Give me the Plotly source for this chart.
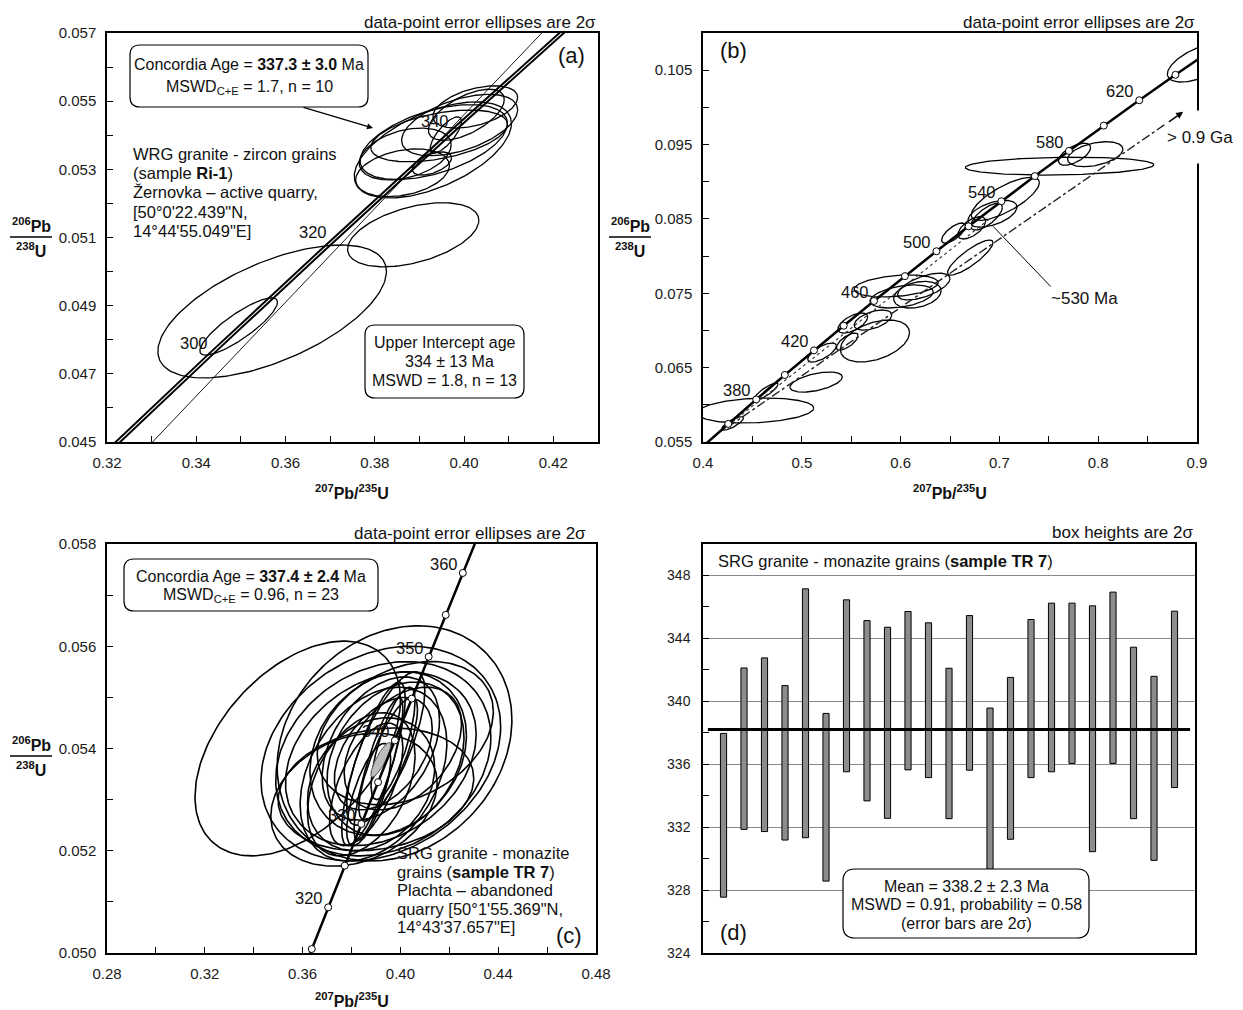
import numpy as np
import plotly.graph_objects as go

W, H = 1243, 1010
FONT = "Liberation Sans, Arial, sans-serif"

# ---------------- data ----------------
# Concordia reference points: age (Ma), 207Pb/235U, 206Pb/238U
conc_a_age = [280, 300, 320, 340, 360]
conc_a_x = [0.31753, 0.34374, 0.37047, 0.39773, 0.42553]
conc_a_y = [0.044392, 0.047637, 0.050893, 0.054158, 0.057434]
conc_a_labels = [300, 320, 340]

conc_b_age = [340, 360, 380, 400, 420, 440, 460, 480, 500, 520, 540, 560, 580, 600, 620, 640, 660, 680]
conc_b_x = [0.39773, 0.42553, 0.45389, 0.48281, 0.51231, 0.54239, 0.57307, 0.60437, 0.63628,
            0.66883, 0.70203, 0.73588, 0.77041, 0.80563, 0.84155, 0.87818, 0.91554, 0.95365]
conc_b_y = [0.054158, 0.057434, 0.060720, 0.064016, 0.067322, 0.070638, 0.073965, 0.077302, 0.080650,
            0.084008, 0.087376, 0.090755, 0.094144, 0.097544, 0.100955, 0.104376, 0.107807, 0.111249]
conc_b_marked = [360, 380, 400, 420, 440, 460, 480, 500, 520, 540, 560, 580, 600, 620, 640]
conc_b_labels = [380, 420, 460, 500, 540, 580, 620]

conc_c_age = [310, 315, 320, 325, 330, 335, 340, 345, 350, 355, 360, 365]
conc_c_x = [0.35704, 0.36374, 0.37047, 0.37723, 0.38403, 0.39086, 0.39773, 0.40463, 0.41156, 0.41853, 0.42553, 0.43257]
conc_c_y = [0.049264, 0.050078, 0.050893, 0.051708, 0.052524, 0.053341, 0.054158, 0.054976, 0.055795, 0.056614, 0.057434, 0.058254]
conc_c_marked = [315, 320, 325, 330, 335, 340, 345, 350, 355, 360]
conc_c_labels = [320, 330, 340, 350, 360]

# Panel (a) discordia regression line end points
disc_a_x = [0.3302, 0.4174]
disc_a_y = [0.0450, 0.0570]

# Error ellipses: centre x, 2s x, centre y, 2s y, error correlation
ell_a_cx = [0.3570, 0.3495, 0.3886, 0.3930, 0.4025, 0.3868, 0.3944, 0.3959, 0.3862, 0.3990, 0.4005, 0.3928, 0.3932]
ell_a_sx = [0.0256, 0.0087, 0.0147, 0.0176, 0.0095, 0.0103, 0.0153, 0.0035, 0.0105, 0.0130, 0.0085, 0.0044, 0.0165]
ell_a_cy = [0.04883, 0.04839, 0.05108, 0.05357, 0.05483, 0.05345, 0.05398, 0.05401, 0.05290, 0.05430, 0.05460, 0.05317, 0.05380]
ell_a_sy = [0.00195, 0.00084, 0.00094, 0.00141, 0.00062, 0.00076, 0.00076, 0.00053, 0.00070, 0.00090, 0.00075, 0.00034, 0.00110]
ell_a_rho = [0.60, 0.85, 0.45, 0.55, 0.45, 0.35, 0.45, 0.75, 0.30, 0.50, 0.60, 0.50, 0.50]

ell_b_cx = [0.453, 0.430, 0.464, 0.5145, 0.5205, 0.574, 0.546, 0.5516, 0.572, 0.5955, 0.601, 0.617,
            0.6235, 0.6705, 0.6536, 0.672, 0.693, 0.687, 0.706, 0.761, 0.776, 0.797, 0.905]
ell_b_sx = [0.059, 0.011, 0.012, 0.0265, 0.0145, 0.035, 0.011, 0.0151, 0.019, 0.0425, 0.032, 0.024,
            0.0265, 0.023, 0.0121, 0.014, 0.0248, 0.016, 0.0345, 0.0954, 0.0163, 0.028, 0.035]
ell_b_cy = [0.05923, 0.0575, 0.0618, 0.06306, 0.06703, 0.06858, 0.0685, 0.0710, 0.0714, 0.07598, 0.07457, 0.0748,
            0.0759, 0.0798, 0.0831, 0.0838, 0.0857, 0.0853, 0.0877, 0.0921, 0.0937, 0.0937, 0.1061]
ell_b_sy = [0.00168, 0.0009, 0.00114, 0.00135, 0.00128, 0.00282, 0.00115, 0.00135, 0.00135, 0.00148, 0.00155, 0.0018,
            0.0018, 0.00236, 0.00135, 0.0015, 0.0018, 0.0018, 0.0029, 0.0012, 0.00148, 0.00168, 0.0027]
ell_b_rho = [0.20, 0.80, 0.85, 0.50, 0.70, 0.40, 0.70, 0.60, 0.50, 0.30, 0.40, 0.30,
             0.60, 0.85, 0.70, 0.60, 0.50, 0.70, 0.75, 0.15, 0.60, 0.40, 0.60]

ell_c_cx = [0.358, 0.3976, 0.392, 0.393, 0.392, 0.395, 0.389, 0.398, 0.388, 0.392, 0.394, 0.389,
            0.391, 0.395, 0.386, 0.393, 0.384, 0.401, 0.390, 0.397, 0.387, 0.402, 0.381]
ell_c_sx = [0.042, 0.048, 0.049, 0.044, 0.039, 0.032, 0.030, 0.028, 0.026, 0.024, 0.016, 0.013,
            0.010, 0.012, 0.015, 0.020, 0.022, 0.024, 0.040, 0.009, 0.009, 0.036, 0.034]
ell_c_cy = [0.0540, 0.0541, 0.0539, 0.0538, 0.0538, 0.0539, 0.0535, 0.0538, 0.0533, 0.0540, 0.0540, 0.0537,
            0.0536, 0.0538, 0.0533, 0.0539, 0.0533, 0.0540, 0.0532, 0.0541, 0.0531, 0.0543, 0.0530]
ell_c_sy = [0.0021, 0.0023, 0.0021, 0.0019, 0.0017, 0.0016, 0.0017, 0.0015, 0.0013, 0.0014, 0.0015, 0.0016,
            0.0014, 0.0012, 0.0012, 0.0011, 0.0014, 0.0012, 0.0012, 0.0011, 0.0010, 0.0014, 0.0013]
ell_c_rho = [0.45, 0.20, 0.25, 0.22, 0.28, 0.22, 0.35, 0.28, 0.25, 0.40, 0.75, 0.80,
             0.85, 0.80, 0.60, 0.45, 0.40, 0.40, 0.18, 0.75, 0.70, 0.30, 0.25]

# Concordia-age ellipse (panel c)
cage_c = dict(cx=0.392, sx=0.0041, cy=0.05378, sy=0.00034, rho=0.85)

# Panel (b) reference lines (dash-dot)
ref_b1_x = [0.425, 0.886]
ref_b1_y = [0.0570, 0.0994]
ref_b2_x = [0.425, 0.690]
ref_b2_y = [0.0572, 0.0850]
pt_530_x = [0.6936, 0.752]
pt_530_y = [0.0840, 0.0759]

# Panel (d) weighted mean: spot ages, box top / bottom (Ma)
spot_top = [337.96, 342.12, 342.76, 341.00, 347.15, 339.23, 346.45, 345.13, 344.71, 345.71, 344.99, 342.10,
            345.45, 339.57, 341.52, 345.20, 346.24, 346.24, 346.07, 346.94, 343.44, 341.59, 345.73]
spot_bot = [327.55, 331.86, 331.72, 331.18, 331.33, 328.57, 335.52, 333.67, 332.56, 335.64, 335.15, 332.54,
            335.62, 329.32, 331.23, 335.15, 335.52, 336.05, 330.44, 336.05, 332.54, 329.89, 334.52]
mean_age = 338.2

# ---------------- helpers ----------------
def ellipses(cx, sx, cy, sy, rho):
    t = np.linspace(0, 2 * np.pi, 181)
    xs, ys = [], []
    for a, b, c, d, r in zip(cx, sx, cy, sy, rho):
        xs += list(a + b * np.cos(t)) + [None]
        ys += list(c + d * (r * np.cos(t) + np.sqrt(1 - r * r) * np.sin(t))) + [None]
    return xs, ys


def P(x, y):
    return x / W, 1 - y / H


def txt(x, y, text, size=16.5, xanchor="center", yanchor="middle", **kw):
    px, py = P(x, y)
    d = dict(x=px, y=py, xref="paper", yref="paper", text=text, showarrow=False,
             xanchor=xanchor, yanchor=yanchor,
             font=dict(family=FONT, size=size, color="#111"))
    d.update(kw)
    return d


def rrect(x0, y0, x1, y1, r=10):
    rx, ry = r / W, r / H
    X0, Y0 = P(x0, y0)
    X1, Y1 = P(x1, y1)
    path = (f"M {X0+rx},{Y0} L {X1-rx},{Y0} Q {X1},{Y0} {X1},{Y0-ry} "
            f"L {X1},{Y1+ry} Q {X1},{Y1} {X1-rx},{Y1} L {X0+rx},{Y1} "
            f"Q {X0},{Y1} {X0},{Y1+ry} L {X0},{Y0-ry} Q {X0},{Y0} {X0+rx},{Y0} Z")
    return dict(type="path", path=path, xref="paper", yref="paper",
                line=dict(color="black", width=1.2), fillcolor="white", layer="above")


def pick(ages, xs, ys, wanted):
    idx = [ages.index(a) for a in wanted]
    return [xs[i] for i in idx], [ys[i] for i in idx]


fig = go.Figure()
LW = dict(color="black", width=1.3)

# ---- panel (a)
ex, ey = ellipses(ell_a_cx, ell_a_sx, ell_a_cy, ell_a_sy, ell_a_rho)
fig.add_trace(go.Scatter(x=ex, y=ey, mode="lines", line=LW, xaxis="x", yaxis="y", hoverinfo="skip"))
band = 0.0005
for s in (-1, 1):
    fig.add_trace(go.Scatter(x=[v + s * band for v in conc_a_x], y=conc_a_y, mode="lines",
                             line=dict(color="black", width=2), xaxis="x", yaxis="y"))
fig.add_trace(go.Scatter(x=disc_a_x, y=disc_a_y, mode="lines", line=dict(color="black", width=0.9),
                         xaxis="x", yaxis="y"))

# ---- panel (b)
ex, ey = ellipses(ell_b_cx, ell_b_sx, ell_b_cy, ell_b_sy, ell_b_rho)
fig.add_trace(go.Scatter(x=ex, y=ey, mode="lines", line=LW, xaxis="x2", yaxis="y2", hoverinfo="skip"))
fig.add_trace(go.Scatter(x=ref_b1_x, y=ref_b1_y, mode="lines",
                         line=dict(color="#222", width=1.4, dash="dashdot"), xaxis="x2", yaxis="y2"))
fig.add_trace(go.Scatter(x=ref_b2_x, y=ref_b2_y, mode="lines",
                         line=dict(color="#333", width=1.1, dash="dot"), xaxis="x2", yaxis="y2"))
fig.add_trace(go.Scatter(x=pt_530_x, y=pt_530_y, mode="lines",
                         line=dict(color="black", width=1), xaxis="x2", yaxis="y2"))
fig.add_trace(go.Scatter(x=conc_b_x, y=conc_b_y, mode="lines", line=dict(color="black", width=2.5),
                         xaxis="x2", yaxis="y2"))
mx, my = pick(conc_b_age, conc_b_x, conc_b_y, conc_b_marked)
fig.add_trace(go.Scatter(x=mx, y=my, mode="markers", xaxis="x2", yaxis="y2",
                         marker=dict(size=7, color="white", line=dict(color="black", width=1))))

# ---- panel (c)
ex, ey = ellipses(ell_c_cx, ell_c_sx, ell_c_cy, ell_c_sy, ell_c_rho)
fig.add_trace(go.Scatter(x=ex, y=ey, mode="lines", line=dict(color="black", width=1.6),
                         xaxis="x3", yaxis="y3", hoverinfo="skip"))
gx, gy = ellipses([cage_c["cx"]], [cage_c["sx"]], [cage_c["cy"]], [cage_c["sy"]], [cage_c["rho"]])
fig.add_trace(go.Scatter(x=gx[:-1], y=gy[:-1], mode="lines", fill="toself", fillcolor="#bdbdbd",
                         line=dict(color="#555", width=1), xaxis="x3", yaxis="y3"))
fig.add_trace(go.Scatter(x=conc_c_x, y=conc_c_y, mode="lines", line=dict(color="black", width=2.5),
                         xaxis="x3", yaxis="y3"))
mx, my = pick(conc_c_age, conc_c_x, conc_c_y, conc_c_marked)
fig.add_trace(go.Scatter(x=mx, y=my, mode="markers", xaxis="x3", yaxis="y3",
                         marker=dict(size=7, color="white", line=dict(color="black", width=1))))

# ---- panel (d)
idx = list(range(1, len(spot_top) + 1))
fig.add_trace(go.Bar(x=idx, y=[t - b for t, b in zip(spot_top, spot_bot)], base=spot_bot, width=0.3,
                     marker=dict(color="#8c8c8c", line=dict(color="black", width=1)),
                     xaxis="x4", yaxis="y4"))

# ---------------- axes ----------------
TF = dict(family=FONT, size=15, color="#1a1a1a")


def axis(domain, anchor, rng, tick0, dtick, fmt, mdtick, **kw):
    d = dict(domain=domain, anchor=anchor, range=rng, tick0=tick0, dtick=dtick, tickformat=fmt,
             showline=True, mirror=True, linecolor="black", linewidth=1.5,
             ticks="inside", ticklen=6, tickcolor="black", tickwidth=1, automargin=False,
             showgrid=False, zeroline=False, tickfont=TF, ticklabelstandoff=6,
             minor=dict(dtick=mdtick, tick0=tick0, ticks="inside", ticklen=6, tickcolor="black",
                        tickwidth=1, showgrid=False))
    d.update(kw)
    return d


xa = [107 / W, 598 / W]
xb = [703 / W, 1197 / W]
xc = [107 / W, 596 / W]
xd = [703 / W, 1195 / W]
ytop = [1 - 442 / H, 1 - 33 / H]
ybot = [1 - 953 / H, 1 - 544 / H]

fig.update_layout(
    xaxis=axis(xa, "y", [0.32, 0.43], 0.32, 0.02, ".2f", 0.01),
    yaxis=axis(ytop, "x", [0.045, 0.057], 0.045, 0.002, ".3f", 0.001),
    xaxis2=axis(xb, "y2", [0.4, 0.9], 0.4, 0.1, ".1f", 0.05),
    yaxis2=axis(ytop, "x2", [0.055, 0.110], 0.055, 0.01, ".3f", 0.005),
    xaxis3=axis(xc, "y3", [0.28, 0.48], 0.28, 0.04, ".2f", 0.02),
    yaxis3=axis(ybot, "x3", [0.050, 0.058], 0.050, 0.002, ".3f", 0.001),
    xaxis4=dict(domain=xd, anchor="y4", range=[0, 24], showline=True, mirror=True, linecolor="black",
                linewidth=1.5, showticklabels=False, ticks="", showgrid=False, zeroline=False,
                automargin=False),
    yaxis4=axis(ybot, "x4", [324, 350], 324, 4, "d", 2, showgrid=True, gridcolor="#8a8a8a", gridwidth=1,
                tickfont=dict(family=FONT, size=14, color="#1a1a1a"), ticklabelstandoff=8),
)

# ---------------- annotations ----------------
ann = []
BIG = 22
ann.append(txt(598, 22, "data-point error ellipses are 2σ", 17, xanchor="right"))
ann.append(txt(1197, 22, "data-point error ellipses are 2σ", 17, xanchor="right"))
ann.append(txt(588, 533, "data-point error ellipses are 2σ", 17, xanchor="right"))
ann.append(txt(1195, 532, "box heights are 2σ", 17, xanchor="right"))
ann.append(txt(571, 55, "(a)", BIG))
ann.append(txt(733, 50, "(b)", BIG))
ann.append(txt(569, 935, "(c)", BIG))
ann.append(txt(733, 932, "(d)", BIG))
XT = "<b><sup>207</sup>Pb/<sup>235</sup>U</b>"
ann.append(txt(352, 492, XT, 16))
ann.append(txt(950, 492, XT, 16))
ann.append(txt(352, 1000, XT, 16))
frac_lines = []
for cx, cy in [(31, 237), (630, 237), (31, 756)]:
    ann.append(txt(cx, cy - 12, "<b><sup>206</sup>Pb</b>", 16))
    ann.append(txt(cx, cy + 13, "<b><sup>238</sup>U</b>", 16))
    x0, y0 = P(cx - 21, cy)
    x1, _ = P(cx + 21, cy)
    frac_lines.append(dict(type="line", xref="paper", yref="paper", x0=x0, x1=x1, y0=y0, y1=y0,
                           line=dict(color="black", width=1.5)))

# panel (a) texts
ann.append(txt(249, 64, "Concordia Age = <b>337.3 ± 3.0</b> Ma", 16))
ann.append(txt(249, 88, "MSWD<sub>C+E</sub> = 1.7, n = 10", 16))
for i, line in enumerate(["WRG granite - zircon grains", "(sample <b>Ri-1</b>)",
                          "Žernovka – active quarry,", "[50°0'22.439\"N,", "14°44'55.049\"E]"]):
    ann.append(txt(131, 154 + i * 19.2, line, xanchor="left"))
ann.append(txt(445, 342, "Upper Intercept age", 16))
ann.append(txt(449, 361, "334 ± 13 Ma", 16))
ann.append(txt(444, 380, "MSWD = 1.8, n = 13", 16))
hx, hy = P(373, 128)
ann.append(dict(x=hx, y=hy, xref="paper", yref="paper", showarrow=True, ax=-71, ay=-21,
                arrowhead=2, arrowsize=1, arrowwidth=1.2, arrowcolor="black", text=""))

# panel (b) texts
ann.append(txt(1165, 137, "&gt; 0.9 Ga", 17, xanchor="left", bgcolor="white", height=50))
ann.append(dict(x=ref_b1_x[1], y=ref_b1_y[1], xref="x2", yref="y2", ax=0.87, ay=0.0979,
                axref="x2", ayref="y2", showarrow=True, arrowhead=2, arrowsize=1, arrowwidth=1.4,
                arrowcolor="black", text=""))
ann.append(txt(1049, 298, "~530 Ma", 17, xanchor="left"))

# panel (c) texts
ann.append(txt(251, 576, "Concordia Age = <b>337.4 ± 2.4</b> Ma", 16))
ann.append(txt(251, 595, "MSWD<sub>C+E</sub> = 0.96, n = 23", 16))
for i, line in enumerate(["SRG granite - monazite", "grains (<b>sample TR 7</b>)",
                          "Plachta – abandoned", "quarry [50°1'55.369\"N,", "14°43'37.657\"E]"]):
    ann.append(txt(395, 853 + i * 18.5, line, xanchor="left"))

# panel (d) texts
ann.append(txt(716, 561, "SRG granite - monazite grains (<b>sample TR 7</b>)", xanchor="left"))
ann.append(txt(966, 886, "Mean = 338.2 ± 2.3 Ma", 16))
ann.append(txt(966, 904, "MSWD = 0.91, probability = 0.58", 16))
ann.append(txt(966, 923, "(error bars are 2σ)", 16))


def age_labels(ages, xs, ys, wanted, xr, yr):
    lx, ly = pick(ages, xs, ys, wanted)
    for a, x, y in zip(wanted, lx, ly):
        ann.append(dict(x=x, y=y, xref=xr, yref=yr, text=str(a), showarrow=False,
                        xanchor="right", yanchor="middle", xshift=-3, yshift=9,
                        font=dict(family=FONT, size=16.5, color="#111")))


age_labels(conc_a_age, conc_a_x, conc_a_y, conc_a_labels, "x", "y")
age_labels(conc_b_age, conc_b_x, conc_b_y, conc_b_labels, "x2", "y2")
age_labels(conc_c_age, conc_c_x, conc_c_y, conc_c_labels, "x3", "y3")

shapes = [rrect(130, 45, 368, 107), rrect(365, 325, 524, 398),
          rrect(124, 559, 378, 611), rrect(843, 869, 1089, 938, 12)]
shapes.append(dict(type="line", xref="x4 domain", yref="y4", x0=0.01, x1=0.99, y0=mean_age, y1=mean_age,
                   line=dict(color="black", width=3), layer="above"))
shapes += frac_lines

fig.update_layout(
    width=W, height=H, margin=dict(l=0, r=0, t=0, b=0, autoexpand=False),
    paper_bgcolor="white", plot_bgcolor="white", showlegend=False,
    annotations=ann, shapes=shapes,
    font=dict(family=FONT, color="#111"),
)

fig.write_html("out.html")
